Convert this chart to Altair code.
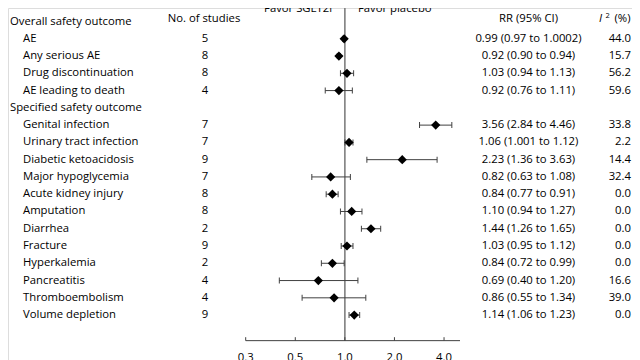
import altair as alt
import pandas as pd

# ---------------- data ----------------
outcomes = ["AE", "Any serious AE", "Drug discontinuation", "AE leading to death",
            "Genital infection", "Urinary tract infection", "Diabetic ketoacidosis",
            "Major hypoglycemia", "Acute kidney injury", "Amputation", "Diarrhea",
            "Fracture", "Hyperkalemia", "Pancreatitis", "Thromboembolism", "Volume depletion"]
groups = ["Overall safety outcome"] * 4 + ["Specified safety outcome"] * 12
studies = [5, 8, 8, 4, 7, 7, 9, 7, 8, 8, 2, 9, 2, 4, 4, 9]
rr = [0.99, 0.92, 1.03, 0.92, 3.56, 1.06, 2.23, 0.82, 0.84, 1.10, 1.44, 1.03, 0.84, 0.69, 0.86, 1.14]
ci_low = [0.97, 0.90, 0.94, 0.76, 2.84, 1.001, 1.36, 0.63, 0.77, 0.94, 1.26, 0.95, 0.72, 0.40, 0.55, 1.06]
ci_high = [1.0002, 0.94, 1.13, 1.11, 4.46, 1.12, 3.63, 1.08, 0.91, 1.27, 1.65, 1.12, 0.99, 1.20, 1.34, 1.23]
rr_text = ["0.99 (0.97 to 1.0002)", "0.92 (0.90 to 0.94)", "1.03 (0.94 to 1.13)",
           "0.92 (0.76 to 1.11)", "3.56 (2.84 to 4.46)", "1.06 (1.001 to 1.12)",
           "2.23 (1.36 to 3.63)", "0.82 (0.63 to 1.08)", "0.84 (0.77 to 0.91)",
           "1.10 (0.94 to 1.27)", "1.44 (1.26 to 1.65)", "1.03 (0.95 to 1.12)",
           "0.84 (0.72 to 0.99)", "0.69 (0.40 to 1.20)", "0.86 (0.55 to 1.34)",
           "1.14 (1.06 to 1.23)"]
i2 = [44.0, 15.7, 56.2, 59.6, 33.8, 2.2, 14.4, 32.4, 0.0, 0.0, 0.0, 0.0, 0.0, 16.6, 39.0, 0.0]
column_titles = ["No. of studies", "RR (95% CI)"]
tick_values = [0.25, 0.5, 1.0, 2.0, 4.0]
tick_labels = ["0.3", "0.5", "1.0", "2.0", "4.0"]
favor_labels = ["Favor SGLT2i", "Favor placebo"]
x_domain = [0.25, 5.0]

# ---------------- layout helpers ----------------
FONT = "Open Sans"
FS = 11.3
TXT = "#000000"

rows, sec_rows, sec_names = [], [], []
r = 0
prev = None
for g in groups:
    if g != prev:
        sec_rows.append(r)
        sec_names.append(g)
        r += 1
        prev = g
    rows.append(r)
    r += 1
axis_row = 18.48
label_row = 19.5

df = pd.DataFrame({
    "outcome": outcomes, "row": rows, "n": studies, "rr": rr,
    "lo": ci_low, "hi": ci_high, "rr_text": rr_text,
    "i2": [f"{v:.1f}" for v in i2],
})
sec_df = pd.DataFrame({"name": sec_names, "row": sec_rows})
caps_df = pd.DataFrame({"x": ci_low + ci_high, "row": rows + rows})
ticks_df = pd.DataFrame({"x": tick_values, "label": tick_labels,
                         "row": [axis_row] * 5, "row2": [axis_row - 0.2] * 5,
                         "lrow": [label_row] * 5})

xs = alt.Scale(type="log", base=2, domain=x_domain, range=[237.7, 452])
ys = alt.Scale(domain=[0, 20], range=[13.5, 358.9])


def X(f):
    return alt.X(f, type="quantitative", scale=xs, axis=None)


def Y(f):
    return alt.Y(f, type="quantitative", scale=ys, axis=None)


def txt(**kw):
    base = dict(font=FONT, fontSize=FS, color=TXT, baseline="middle")
    base.update(kw)
    return base


# reference line at RR = 1
ref = alt.Chart(pd.DataFrame({"x": [1.0], "y0": [-1.0], "y1": [axis_row]})).mark_rule(
    color="#7f7f7f", strokeWidth=1.6).encode(x=X("x"), y=Y("y0"), y2="y1")

# axis line and ticks
axis_line = alt.Chart(pd.DataFrame({"x": [x_domain[0]], "x2": [x_domain[1]], "row": [axis_row]})).mark_rule(
    color="#404040", strokeWidth=1).encode(x=X("x"), x2="x2", y=Y("row"))
axis_ticks = alt.Chart(ticks_df).mark_rule(color="#404040", strokeWidth=1).encode(
    x=X("x"), y=Y("row"), y2="row2")
axis_labels = alt.Chart(ticks_df).mark_text(**txt()).encode(
    x=X("x"), y=Y("lrow"), text="label:N")

# error bars, caps, diamonds
bars = alt.Chart(df).mark_rule(color="#404040", strokeWidth=1).encode(
    x=X("lo"), x2="hi", y=Y("row"))
caps = alt.Chart(caps_df).mark_tick(orient="vertical", size=6, thickness=1,
                                    color="#404040", opacity=1).encode(x=X("x"), y=Y("row"))
points = alt.Chart(df).mark_point(shape="diamond", filled=True, size=85, color="#000000",
                                  opacity=1).encode(x=X("rr"), y=Y("row"))

# text columns
sec_text = alt.Chart(sec_df).mark_text(**txt(align="left")).encode(
    x=alt.value(2), y=Y("row"), text="name:N")
name_text = alt.Chart(df).mark_text(**txt(align="left")).encode(
    x=alt.value(15), y=Y("row"), text="outcome:N")
n_text = alt.Chart(df).mark_text(**txt(align="center")).encode(
    x=alt.value(197), y=Y("row"), text="n:Q")
rr_col = alt.Chart(df).mark_text(**txt(align="center")).encode(
    x=alt.value(520.5), y=Y("row"), text="rr_text:N")
i2_col = alt.Chart(df).mark_text(**txt(align="right")).encode(
    x=alt.value(623), y=Y("row"), text="i2:N")

hdr_df = pd.DataFrame({"t": column_titles, "row": [0, 0], "px": [196, 520.5]})
hdr = alt.Chart(hdr_df).mark_text(**txt(align="center", dy=-3)).encode(
    x=alt.X("px:Q", scale=None, axis=None), y=Y("row"), text="t:N")
i2_hdr_i = alt.Chart(pd.DataFrame({"t": ["I"], "row": [0]})).mark_text(
    **txt(align="left", dy=-2.5, fontStyle="italic")).encode(x=alt.value(591), y=Y("row"), text="t:N")
i2_hdr_2 = alt.Chart(pd.DataFrame({"t": ["2"], "row": [0]})).mark_text(
    **txt(align="left", dy=-5.5, fontSize=7.5)).encode(x=alt.value(597.5), y=Y("row"), text="t:N")
i2_hdr_p = alt.Chart(pd.DataFrame({"t": ["(%)"], "row": [0]})).mark_text(
    **txt(align="left", dy=-2.5)).encode(x=alt.value(606.5), y=Y("row"), text="t:N")

favor_df = pd.DataFrame({"t": favor_labels, "row": [-0.55, -0.55], "px": [324, 350]})
favor_l = alt.Chart(favor_df.iloc[[0]]).mark_text(
    **txt(align="right", baseline="alphabetic"), clip=True).encode(
    x=alt.X("px:Q", scale=None, axis=None), y=Y("row"), text="t:N")
favor_r = alt.Chart(favor_df.iloc[[1]]).mark_text(
    **txt(align="left", baseline="alphabetic"), clip=True).encode(
    x=alt.X("px:Q", scale=None, axis=None), y=Y("row"), text="t:N")

chart = alt.layer(
    ref, axis_line, axis_ticks, axis_labels, bars, caps, points,
    sec_text, name_text, n_text, rr_col, i2_col, hdr, i2_hdr_i, i2_hdr_2, i2_hdr_p,
    favor_l, favor_r,
).resolve_scale(x="shared", y="shared").properties(
    width=624, height=352, padding=0,
    autosize=alt.AutoSizeParams(type="none"),
).configure_view(stroke=None).configure(background="white")

chart.save("out.html", embed_options={"renderer": "svg", "actions": False})
